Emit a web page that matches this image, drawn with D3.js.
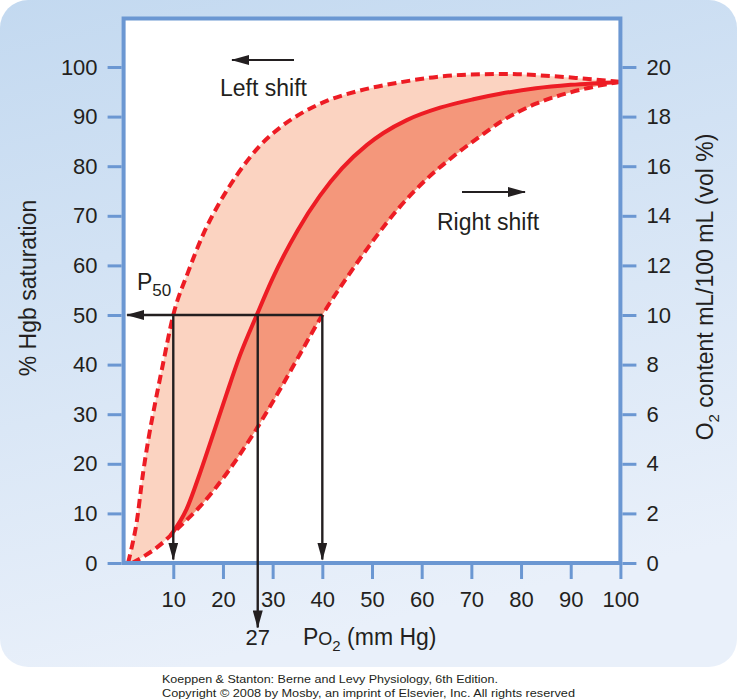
<!DOCTYPE html>
<html lang="en">
<head>
<meta charset="UTF-8">
<script src="https://d3js.org/d3.v7.min.js"></script>
<title>Oxyhemoglobin dissociation curve</title>
<style>
    body { margin: 0; background: #fff; }
    svg text { font-family: "Liberation Sans", Arial, Helvetica, sans-serif; fill: #231f20; }
    .tick line { stroke: #6b97d2; stroke-width: 3; }
    .tick text { font-size: 22px; }
</style>
</head>
<body>
<div id="app"></div>
<script>
    const svg_width = 737;
    const svg_height = 700;

    // [PO2 mm Hg, % Hgb saturation]
    const leftShift = [[0.9, 0], [1.6, 3], [2.6, 8], [3.9, 18], [5, 25], [6.3, 32], [7.9, 40], [10, 50],
        [13, 58.7], [16, 66.2], [19.4, 72.8], [22.8, 78.2], [27.5, 84.2], [31.5, 87.8], [36, 90.8],
        [41, 93.2], [47, 95.1], [55.6, 96.9], [63, 98], [70, 98.5], [77, 98.6], [84, 98.3],
        [91, 97.8], [100, 97]];
    const normalCurve = [[9.5, 5.6], [12.7, 10.9], [15.4, 18.2], [18.1, 26.2], [20.7, 34], [23.4, 41.8],
        [26.8, 50], [30, 57.4], [35, 67], [39.5, 74], [44, 79.6], [49, 84.3], [52.3, 86.7], [57, 89.3],
        [63.7, 91.8], [70.4, 93.5], [75.8, 94.6], [83, 95.7], [90, 96.4], [100, 97]];
    const rightShift = [[1.7, 0], [4, 1.3], [6, 2.6], [8, 4.2], [9.5, 5.6], [12, 8], [15.4, 11.4],
        [20.7, 18], [26.1, 26], [30.8, 33.8], [35.5, 42.1], [40, 50], [45.6, 58.5], [50.3, 65.1],
        [55.6, 71.8], [61, 77.4], [66.4, 82], [71.7, 86], [76, 89], [83, 92.6], [90, 94.9],
        [96, 96.3], [100, 97]];

    const p50Values = [10, 27, 40];
    const satTicks = [0, 10, 20, 30, 40, 50, 60, 70, 80, 90, 100];
    const contentTicks = [0, 2, 4, 6, 8, 10, 12, 14, 16, 18, 20];
    const po2Ticks = [10, 20, 30, 40, 50, 60, 70, 80, 90, 100];

    const blue = '#6b97d2';
    const red = '#ed1c24';
    const ink = '#231f20';

    const svg = d3.select('#app')
        .append('svg')
        .attr('width', svg_width)
        .attr('height', svg_height);

    const defs = svg.append('defs');
    const grad = defs.append('linearGradient')
        .attr('id', 'bg')
        .attr('x1', 0).attr('y1', 0).attr('x2', 0.25).attr('y2', 1);
    grad.append('stop').attr('offset', 0).attr('stop-color', '#c3d9f0');
    grad.append('stop').attr('offset', 1).attr('stop-color', '#e9f0fa');

    defs.append('marker')
        .attr('id', 'head')
        .attr('viewBox', '0 0 18 10')
        .attr('refX', 17)
        .attr('refY', 5)
        .attr('markerUnits', 'userSpaceOnUse')
        .attr('markerWidth', 18)
        .attr('markerHeight', 10)
        .attr('orient', 'auto')
        .append('path')
        .attr('d', 'M0,0 L18,5 L0,10 Z')
        .attr('fill', ink);

    // panel
    svg.append('rect')
        .attr('x', 0).attr('y', 0)
        .attr('width', svg_width).attr('height', 667)
        .attr('rx', 28)
        .attr('fill', 'url(#bg)');

    const x = d3.scaleLinear().domain([0, 100]).range([123.6, 620.4]);
    const y = d3.scaleLinear().domain([0, 100]).range([563, 67]);
    const y2 = d3.scaleLinear().domain([0, 20]).range([563, 67]);
    const plotTop = 18.5;

    svg.append('rect')
        .attr('x', x(0)).attr('y', plotTop)
        .attr('width', x(100) - x(0)).attr('height', y(0) - plotTop)
        .attr('fill', '#fff');

    const line = d3.line()
        .x(function (d) { return x(d[0]); })
        .y(function (d) { return y(d[1]); })
        .curve(d3.curveMonotoneX);

    function band(top, bottom) {
        // bottom drawn right-to-left so the two edges close into one shape
        const back = line(bottom.slice().reverse()).replace(/^M/, 'L');
        return line(top) + back + 'Z';
    }

    svg.append('path')
        .attr('d', band(leftShift, rightShift))
        .attr('fill', '#fbd3c1');
    svg.append('path')
        .attr('d', band(normalCurve, rightShift.filter(function (d) { return d[0] >= normalCurve[0][0]; })))
        .attr('fill', '#f4977b');

    svg.append('path')
        .attr('d', line(normalCurve))
        .attr('fill', 'none')
        .attr('stroke', red)
        .attr('stroke-width', 4);

    [leftShift, rightShift].forEach(function (c) {
        svg.append('path')
            .attr('d', line(c))
            .attr('fill', 'none')
            .attr('stroke', red)
            .attr('stroke-width', 4)
            .attr('stroke-dasharray', '9,5');
    });

    // axes
    svg.append('g')
        .attr('transform', 'translate(' + (x(0) - 2) + ',0)')
        .call(d3.axisLeft(y).tickValues(satTicks).tickSize(14).tickPadding(10).tickSizeOuter(0))
        .call(function (g) { g.select('.domain').remove(); });

    svg.append('g')
        .attr('transform', 'translate(' + (x(100) + 2) + ',0)')
        .call(d3.axisRight(y2).tickValues(contentTicks).tickSize(14).tickPadding(10).tickSizeOuter(0))
        .call(function (g) { g.select('.domain').remove(); });

    svg.append('g')
        .attr('transform', 'translate(0,' + (y(0) + 2) + ')')
        .call(d3.axisBottom(x).tickValues(po2Ticks).tickSize(14).tickPadding(12).tickSizeOuter(0))
        .call(function (g) { g.select('.domain').remove(); });

    svg.selectAll('.tick text').attr('fill', ink);

    // plot frame
    svg.append('rect')
        .attr('x', x(0)).attr('y', plotTop)
        .attr('width', x(100) - x(0)).attr('height', y(0) - plotTop)
        .attr('fill', 'none')
        .attr('stroke', blue)
        .attr('stroke-width', 4);

    // P50 guide lines
    const guides = svg.append('g')
        .attr('stroke', ink)
        .attr('stroke-width', 2.4)
        .attr('fill', 'none');

    guides.append('line')
        .attr('x1', x(40)).attr('y1', y(50))
        .attr('x2', x(0.7)).attr('y2', y(50))
        .attr('marker-end', 'url(#head)');

    guides.selectAll('.drop')
        .data(p50Values)
        .enter()
        .append('line')
        .attr('class', 'drop')
        .attr('x1', function (d) { return x(d); })
        .attr('y1', y(50))
        .attr('x2', function (d) { return x(d); })
        .attr('y2', function (d) { return d === 27 ? y(-13) : y(0.7); })
        .attr('marker-end', 'url(#head)');

    // shift arrows
    guides.append('line')
        .attr('x1', 294).attr('y1', 60).attr('x2', 232).attr('y2', 60)
        .attr('stroke-width', 2.2)
        .attr('marker-end', 'url(#head)');
    guides.append('line')
        .attr('x1', 462).attr('y1', 192).attr('x2', 525).attr('y2', 192)
        .attr('stroke-width', 2.2)
        .attr('marker-end', 'url(#head)');

    svg.append('text').attr('x', 220).attr('y', 96).attr('font-size', 23).text('Left shift');
    svg.append('text').attr('x', 437).attr('y', 230).attr('font-size', 23).text('Right shift');

    const p50 = svg.append('text').attr('x', 137).attr('y', 290).attr('font-size', 23);
    p50.append('tspan').text('P');
    p50.append('tspan').attr('font-size', 17).attr('dy', 6).text('50');

    svg.append('text')
        .attr('x', x(27)).attr('y', 645)
        .attr('text-anchor', 'middle')
        .attr('font-size', 22)
        .text('27');

    const xt = svg.append('text').attr('x', 303).attr('y', 645).attr('font-size', 23);
    xt.append('tspan').text('P');
    xt.append('tspan').attr('font-size', 18).text('O');
    xt.append('tspan').attr('font-size', 15).attr('dy', 6).text('2');
    xt.append('tspan').attr('dy', -6).text(' (mm Hg)');

    svg.append('text')
        .attr('transform', 'translate(36,288) rotate(-90)')
        .attr('text-anchor', 'middle')
        .attr('font-size', 23)
        .text('% Hgb saturation');

    const yt = svg.append('text')
        .attr('transform', 'translate(713,287) rotate(-90)')
        .attr('text-anchor', 'middle')
        .attr('font-size', 23);
    yt.append('tspan').text('O');
    yt.append('tspan').attr('font-size', 15).attr('dy', 6).text('2');
    yt.append('tspan').attr('dy', -6).text(' content mL/100 mL (vol %)');

    // credit
    svg.append('text')
        .attr('x', 162).attr('y', 683)
        .attr('font-family', '"DejaVu Sans", Verdana, sans-serif')
        .attr('font-size', 11)
        .attr('textLength', 336)
        .attr('lengthAdjust', 'spacingAndGlyphs')
        .text('Koeppen & Stanton: Berne and Levy Physiology, 6th Edition.');
    svg.append('text')
        .attr('x', 162).attr('y', 697)
        .attr('font-family', '"DejaVu Sans", Verdana, sans-serif')
        .attr('font-size', 11)
        .attr('textLength', 413)
        .attr('lengthAdjust', 'spacingAndGlyphs')
        .text('Copyright \u00a9 2008 by Mosby, an imprint of Elsevier, Inc. All rights reserved');
</script>
</body>
</html>
